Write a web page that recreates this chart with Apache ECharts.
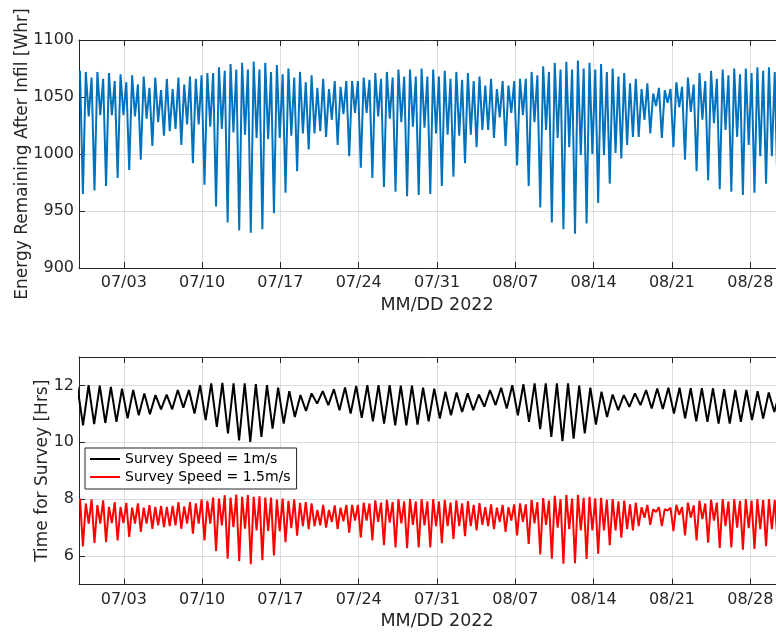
<!DOCTYPE html>
<html>
<head>
<meta charset="utf-8">
<script src="https://cdn.jsdelivr.net/npm/echarts/dist/echarts.min.js"></script>
<style>
  html, body { margin: 0; padding: 0; background: #ffffff; }
  #main { width: 776px; height: 634px; }
</style>
</head>
<body>
<div id="main"></div>
<script>
// ---------- Data ----------
// x axis: days since 06/29/2022 00:00
const dateTickDays   = [4, 11, 18, 25, 32, 39, 46, 53, 60];
const dateTickLabels = ['07/03', '07/10', '07/17', '07/24', '07/31', '08/07', '08/14', '08/21', '08/28'];
const surveyTickValues = [6, 8, 10, 12];

// Semi-diurnal sampling (hours): first high water, half tidal cycle
const tideStartHours = 2.15;
const tideHalfHours = 6.21;
// Diurnal sampling for the 1 m/s survey time
const dayStartHours = -3.36;
const dayHalfHours = 11.96;

// Energy remaining after infill [Whr]: successive highs and lows
const energyPeaks = [
  1073, 1072, 1067, 1072, 1066, 1071, 1064, 1070, 1063, 1069,
  1061, 1068, 1058, 1067, 1056, 1066, 1057, 1067, 1061, 1068,
  1066, 1069, 1071, 1071, 1076, 1073, 1079, 1074, 1080, 1074,
  1081, 1074, 1080, 1072, 1078, 1070, 1075, 1067, 1072, 1063,
  1069, 1058, 1066, 1057, 1064, 1059, 1064, 1064, 1064, 1067,
  1065, 1071, 1066, 1072, 1067, 1074, 1068, 1074, 1068, 1075,
  1068, 1074, 1068, 1073, 1066, 1072, 1065, 1071, 1064, 1068,
  1060, 1066, 1057, 1064, 1060, 1064, 1066, 1066, 1072, 1069,
  1077, 1072, 1080, 1074, 1081, 1074, 1082, 1075, 1080, 1074,
  1079, 1072, 1075, 1068, 1071, 1062, 1066, 1057, 1062, 1053,
  1058, 1056, 1057, 1063, 1059, 1067, 1061, 1071, 1064, 1073,
  1066, 1074, 1069, 1075, 1070, 1075, 1071, 1076, 1073, 1076,
  1072, 1074
];
const energyTroughs = [
  965, 1033, 968, 1034, 972, 1034, 979, 1034, 986, 1033,
  995, 1031, 1007, 1028, 1016, 1020, 1022, 1008, 1026, 992,
  1026, 973, 1024, 954, 1022, 940, 1019, 933, 1017, 931,
  1014, 934, 1013, 948, 1014, 966, 1016, 985, 1018, 1004,
  1018, 1020, 1015, 1030, 1008, 1035, 998, 1036, 988, 1036,
  979, 1033, 971, 1031, 967, 1028, 963, 1024, 964, 1023,
  965, 1018, 972, 1017, 980, 1016, 992, 1017, 1006, 1021,
  1021, 1014, 1032, 1007, 1036, 990, 1034, 972, 1028, 953,
  1021, 940, 1014, 934, 1006, 930, 999, 939, 1000, 957,
  999, 974, 1001, 996, 1008, 1015, 1015, 1030, 1018, 1042,
  1014, 1045, 1006, 1041, 995, 1037, 985, 1030, 977, 1027,
  969, 1021, 967, 1015, 964, 1008, 966, 998, 974, 998,
  962
];

// Time for survey at 1.5 m/s [Hrs]
const fastPeaks = [
  8.02, 7.85, 7.99, 7.79, 7.96, 7.73, 7.90, 7.73, 7.87, 7.70,
  7.85, 7.70, 7.79, 7.73, 7.76, 7.73, 7.76, 7.90, 7.75, 7.90,
  7.85, 7.99, 7.94, 8.06, 8.02, 8.14, 8.06, 8.16, 8.08, 8.15,
  8.08, 8.10, 8.06, 8.06, 7.99, 8.02, 7.94, 7.99, 7.87, 7.90,
  7.85, 7.62, 7.80, 7.62, 7.78, 7.70, 7.80, 7.80, 7.80, 7.88,
  7.85, 7.96, 7.88, 7.98, 7.90, 8.00, 7.92, 8.00, 7.92, 8.00,
  7.92, 8.00, 7.92, 7.98, 7.88, 7.96, 7.85, 7.93, 7.80, 7.86,
  7.72, 7.82, 7.70, 7.80, 7.72, 7.82, 7.85, 7.82, 7.98, 7.90,
  8.04, 7.95, 8.12, 8.00, 8.15, 8.02, 8.15, 8.05, 8.08, 8.03,
  8.05, 7.98, 8.00, 7.92, 7.95, 7.82, 7.88, 7.72, 7.80, 7.65,
  7.72, 7.65, 7.70, 7.80, 7.72, 7.88, 7.78, 7.95, 7.85, 7.98,
  7.88, 8.00, 7.92, 8.00, 7.94, 8.00, 7.95, 8.00, 7.97, 8.00,
  7.97, 7.98
];
const fastTroughs = [
  6.34, 7.14, 6.46, 7.14, 6.49, 7.16, 6.55, 7.16, 6.67, 7.14,
  6.85, 7.14, 6.96, 7.08, 7.02, 7.05, 7.08, 6.96, 7.14, 6.79,
  7.14, 6.55, 7.14, 6.18, 7.08, 5.91, 7.02, 5.82, 6.96, 5.71,
  6.90, 5.85, 6.88, 6.02, 6.88, 6.49, 6.98, 6.72, 7.05, 6.95,
  7.05, 7.08, 7.00, 7.20, 6.95, 7.22, 6.82, 7.25, 6.65, 7.25,
  6.55, 7.20, 6.38, 7.18, 6.30, 7.15, 6.28, 7.10, 6.30, 7.08,
  6.30, 7.05, 6.45, 7.05, 6.60, 7.05, 6.70, 7.05, 6.90, 7.10,
  7.05, 6.95, 7.20, 6.85, 7.25, 6.73, 7.20, 6.43, 7.15, 6.06,
  7.10, 5.91, 7.00, 5.73, 6.95, 5.75, 6.90, 5.90, 6.90, 6.08,
  6.90, 6.38, 6.90, 6.65, 6.95, 6.90, 7.05, 7.35, 7.10, 7.55,
  7.05, 7.60, 6.88, 7.45, 6.73, 7.35, 6.55, 7.30, 6.47, 7.25,
  6.29, 7.05, 6.30, 7.00, 6.22, 6.98, 6.25, 6.95, 6.35, 6.95,
  6.45
];

// Time for survey at 1 m/s [Hrs]: daily highs and lows
const slowHighs = [
  11.95,
  12.01, 11.99, 11.95, 11.89, 11.84, 11.72, 11.66, 11.68, 11.84, 11.84,
  12.01, 12.07, 12.09, 12.07, 12.07, 12.05, 12.01, 11.92, 11.80, 11.66,
  11.72, 11.80, 11.87, 11.93, 11.98, 12.01, 12.01, 12.01, 11.99, 11.99,
  11.92, 11.89, 11.78, 11.75, 11.72, 11.68, 11.84, 11.92, 12.01, 12.04,
  12.07, 12.07, 12.07, 12.07, 11.99, 11.92, 11.78, 11.68, 11.66, 11.72,
  11.84, 11.89, 11.92, 11.92, 11.90, 11.90, 11.90, 11.87, 11.84, 11.84,
  11.80, 11.75, 11.78
];
const slowLows = [
  10.60, 10.64, 10.68, 10.72, 10.84, 10.95, 10.99, 11.16, 11.16, 11.22,
  11.01, 10.78, 10.54, 10.31, 10.07, 10.01, 10.19, 10.48, 10.66, 10.89,
  11.10, 11.36, 11.31, 11.13, 11.01, 10.86, 10.74, 10.66, 10.60, 10.60,
  10.62, 10.74, 10.84, 10.95, 11.07, 11.13, 11.25, 11.31, 11.19, 10.95,
  10.72, 10.46, 10.19, 10.04, 10.13, 10.31, 10.62, 10.89, 11.13, 11.25,
  11.31, 11.19, 11.17, 11.01, 10.84, 10.74, 10.72, 10.66, 10.66, 10.72,
  10.78, 10.84, 11.07
];

// ---------- Build series from the arrays ----------
function alternate(highs, lows, startH, stepH) {
  const out = [];
  const n = Math.max(highs.length, lows.length);
  for (let j = 0; j < n; j++) {
    if (j < highs.length) out.push([(startH + 2 * j * stepH) / 24, highs[j]]);
    if (j < lows.length) out.push([(startH + (2 * j + 1) * stepH) / 24, lows[j]]);
  }
  return out;
}
const energyData = alternate(energyPeaks, energyTroughs, tideStartHours, tideHalfHours);
const fastData = alternate(fastPeaks, fastTroughs, tideStartHours, tideHalfHours);
const slowData = alternate(slowHighs, slowLows, dayStartHours, dayHalfHours);

// ---------- Chart ----------
const FONT = 'DejaVu Sans';
const INK = '#262626';
const GRIDC = '#dcdcdc';
const dateFmt = v => {
  const k = dateTickDays.indexOf(Math.round(v));
  return k >= 0 ? dateTickLabels[k] : '';
};
const plainFmt = v => String(v);

function bottomX(gridIndex) {
  return {
    gridIndex, type: 'value', min: 0, max: 64, position: 'bottom',
    axisLine: { show: true, onZero: false, lineStyle: { color: INK, width: 1 } },
    axisTick: { show: true, inside: true, length: 6, customValues: dateTickDays, lineStyle: { color: INK } },
    axisLabel: { show: true, customValues: dateTickDays, formatter: dateFmt, fontSize: 16, color: INK, margin: 7, fontFamily: FONT },
    splitLine: { show: true, lineStyle: { color: GRIDC, width: 1 } },
    name: 'MM/DD 2022', nameLocation: 'middle', nameGap: 28, nameMoveOverlap: false,
    nameTextStyle: { fontSize: 17.5, color: INK, fontFamily: FONT }
  };
}
function topX(gridIndex) {
  return {
    gridIndex, type: 'value', min: 0, max: 64, position: 'top',
    axisLine: { show: true, onZero: false, lineStyle: { color: INK, width: 1 } },
    axisTick: { show: true, inside: true, length: 6, customValues: dateTickDays, lineStyle: { color: INK } },
    axisLabel: { show: false },
    splitLine: { show: false }
  };
}

const chart = echarts.init(document.getElementById('main'), null, { renderer: 'canvas' });
chart.setOption({
  animation: false,
  backgroundColor: '#ffffff',
  grid: [
    { left: 79, top: 40, width: 716, height: 228, outerBoundsMode: 'none', containLabel: false },
    { left: 79, top: 357, width: 716, height: 227.5, outerBoundsMode: 'none', containLabel: false }
  ],
  xAxis: [bottomX(0), topX(0), bottomX(1), topX(1)],
  yAxis: [
    {
      gridIndex: 0, type: 'value', min: 900, max: 1100, interval: 50,
      axisLine: { show: true, onZero: false, lineStyle: { color: INK, width: 1 } },
      axisTick: { show: true, inside: true, length: 6, lineStyle: { color: INK } },
      axisLabel: { fontSize: 16, color: INK, margin: 5, fontFamily: FONT, formatter: plainFmt },
      splitLine: { show: true, lineStyle: { color: GRIDC, width: 1 } },
      name: 'Energy Remaining After Infil [Whr]', nameLocation: 'middle', nameGap: 48, nameMoveOverlap: false,
      nameTextStyle: { fontSize: 17, color: INK, fontFamily: FONT }
    },
    {
      gridIndex: 1, type: 'value', min: 5, max: 13,
      axisLine: { show: true, onZero: false, lineStyle: { color: INK, width: 1 } },
      axisTick: { show: true, inside: true, length: 6, customValues: surveyTickValues, lineStyle: { color: INK } },
      axisLabel: { customValues: surveyTickValues, fontSize: 16, color: INK, margin: 5, fontFamily: FONT, formatter: plainFmt },
      splitLine: { show: true, lineStyle: { color: GRIDC, width: 1 } },
      name: 'Time for Survey [Hrs]', nameLocation: 'middle', nameGap: 28, nameMoveOverlap: false,
      nameTextStyle: { fontSize: 17, color: INK, fontFamily: FONT }
    }
  ],
  legend: {
    orient: 'vertical', left: 85, top: 448,
    data: ['Survey Speed = 1m/s', 'Survey Speed = 1.5m/s'],
    icon: 'rect', itemWidth: 30, itemHeight: 2, itemGap: 4,
    textStyle: { fontSize: 14, color: '#000000', fontFamily: FONT },
    borderColor: INK, borderWidth: 1, backgroundColor: '#ffffff',
    padding: [4, 6, 5, 5], borderRadius: 0
  },
  series: [
    {
      name: 'Energy', type: 'line', xAxisIndex: 0, yAxisIndex: 0,
      data: energyData, showSymbol: false, symbol: 'none', clip: true,
      color: '#0072BD', lineStyle: { color: '#0072BD', width: 2 }
    },
    {
      name: 'Survey Speed = 1m/s', type: 'line', xAxisIndex: 2, yAxisIndex: 1,
      data: slowData, showSymbol: false, symbol: 'none', clip: true,
      color: '#000000', lineStyle: { color: '#000000', width: 2 }, itemStyle: { color: '#000000' }
    },
    {
      name: 'Survey Speed = 1.5m/s', type: 'line', xAxisIndex: 2, yAxisIndex: 1,
      data: fastData, showSymbol: false, symbol: 'none', clip: true,
      color: '#ff0000', lineStyle: { color: '#ff0000', width: 2 }, itemStyle: { color: '#ff0000' }
    }
  ]
});
</script>
</body>
</html>
